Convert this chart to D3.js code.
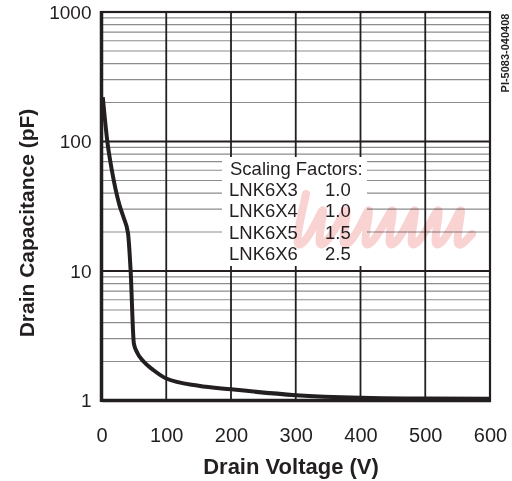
<!DOCTYPE html>
<html>
<head>
<meta charset="utf-8">
<script src="https://cdn.jsdelivr.net/npm/d3@7"></script>
<style>
  body { margin: 0; background: #fff; }
  svg { display: block; font-family: "Liberation Sans", Arial, sans-serif; }
</style>
</head>
<body>
<svg id="chart" width="512" height="481"></svg>
<script>
const voltage = [2, 9, 16, 28, 34, 41, 45, 50, 55, 65, 80, 100, 150, 200, 300, 400, 500, 600];
const capacitance = [220, 100, 60, 32, 26, 19.5, 10, 2.75, 2.35, 2.0, 1.72, 1.48, 1.3, 1.22, 1.1, 1.05, 1.035, 1.03];

const xTicks = [0, 100, 200, 300, 400, 500, 600];
const yTicks = [1, 10, 100, 1000];
const legendTitle = "Scaling Factors:";
const legendParts = ["LNK6X3", "LNK6X4", "LNK6X5", "LNK6X6"];
const legendFactors = ["1.0", "1.0", "1.5", "2.5"];

const INK = "#231f20";
const M = { left: 101.5, right: 490, top: 12, bottom: 400.5 };

const svg = d3.select("#chart");
const x = d3.scaleLinear().domain([0, 600]).range([M.left, M.right]);
const y = d3.scaleLog().domain([1, 1000]).range([M.bottom, M.top]);

// minor horizontal grid (2..9 per decade)
const minor = [];
[1, 10, 100].forEach(d => { for (let k = 2; k <= 9; k++) minor.push(d * k); });
svg.append("g").selectAll("line").data(minor).join("line")
  .attr("x1", M.left).attr("x2", M.right)
  .attr("y1", d => y(d)).attr("y2", d => y(d))
  .attr("stroke", "#8c8c8c").attr("stroke-width", 1.2);

// decade lines
svg.append("g").selectAll("line").data([10, 100]).join("line")
  .attr("x1", M.left).attr("x2", M.right)
  .attr("y1", d => y(d)).attr("y2", d => y(d))
  .attr("stroke", INK).attr("stroke-width", 2);

// vertical grid
svg.append("g").selectAll("line").data(xTicks.slice(1, -1)).join("line")
  .attr("x1", d => x(d)).attr("x2", d => x(d))
  .attr("y1", M.top).attr("y2", M.bottom)
  .attr("stroke", INK).attr("stroke-width", 1.8);

// legend box
svg.append("rect")
  .attr("x", 222).attr("y", 157).attr("width", 145).attr("height", 109)
  .attr("fill", "#fff");

const leg = svg.append("g").attr("fill", INK).style("font-size", "18.5px");
leg.append("text").attr("x", 230).attr("y", 175).text(legendTitle);
legendParts.forEach((p, i) => {
  const by = 196 + i * 21.3;
  leg.append("text").attr("x", 229).attr("y", by).text(p);
  leg.append("text").attr("x", 325).attr("y", by).text(legendFactors[i]);
});

// frame
svg.append("rect")
  .attr("x", M.left).attr("y", M.top)
  .attr("width", M.right - M.left).attr("height", M.bottom - M.top)
  .attr("fill", "none").attr("stroke", INK).attr("stroke-width", 2.2);
svg.append("line").attr("x1", M.left).attr("x2", M.left)
  .attr("y1", M.top - 1).attr("y2", M.bottom + 1.5)
  .attr("stroke", INK).attr("stroke-width", 3.5);
svg.append("line").attr("x1", M.left).attr("x2", M.right + 1)
  .attr("y1", M.bottom).attr("y2", M.bottom)
  .attr("stroke", INK).attr("stroke-width", 3.5);

// curve
const pts = voltage.map((v, i) => [v, capacitance[i]]);
svg.append("path").datum(pts)
  .attr("fill", "none").attr("stroke", INK).attr("stroke-width", 4)
  .attr("stroke-linejoin", "round")
  .attr("d", d3.line().x(d => x(d[0])).y(d => y(d[1])).curve(d3.curveMonotoneX));

// faint pink scribble watermark, multiplied over the plot
const wm = [];
for (let k = 0; k < 4; k++) {
  const x0 = 290 + k * 46;
  wm.push([x0 + 16, 194], [x0 + 2, 256], [x0 + 22, 234], [x0 + 38, 194], [x0 + 24, 256], [x0 + 44, 234]);
}
svg.append("path").datum(wm)
  .attr("fill", "none").attr("stroke", "#f9d2d2").attr("stroke-width", 8)
  .attr("stroke-linecap", "round").style("mix-blend-mode", "multiply")
  .attr("d", d3.line().curve(d3.curveBasis));

// axes
const xAxis = svg.append("g").attr("transform", `translate(0,${M.bottom})`)
  .call(d3.axisBottom(x).tickValues(xTicks).tickSize(0).tickPadding(27).tickFormat(d3.format("d")));
xAxis.select(".domain").remove();
xAxis.selectAll("text").attr("fill", INK).style("font-size", "20px")
  .style("font-family", "'Liberation Sans', Arial, sans-serif");

const yAxis = svg.append("g").attr("transform", `translate(${M.left},0)`)
  .call(d3.axisLeft(y).tickValues(yTicks).tickSize(0).tickPadding(10).tickFormat(d3.format("d")));
yAxis.select(".domain").remove();
yAxis.selectAll("text").attr("fill", INK).style("font-size", "19px")
  .style("font-family", "'Liberation Sans', Arial, sans-serif");

// titles
svg.append("text").attr("x", 291).attr("y", 474).attr("text-anchor", "middle")
  .attr("fill", INK).style("font-size", "22px").style("font-weight", "bold")
  .text("Drain Voltage (V)");
svg.append("text").attr("transform", "translate(34,223) rotate(-90)")
  .attr("text-anchor", "middle").attr("fill", INK)
  .style("font-size", "21px").style("font-weight", "bold")
  .text("Drain Capacitance (pF)");
svg.append("text").attr("transform", "translate(509,53) rotate(-90)")
  .attr("text-anchor", "middle").attr("fill", INK)
  .style("font-size", "11px").style("font-weight", "bold")
  .text("PI-5083-040408");
</script>
</body>
</html>
